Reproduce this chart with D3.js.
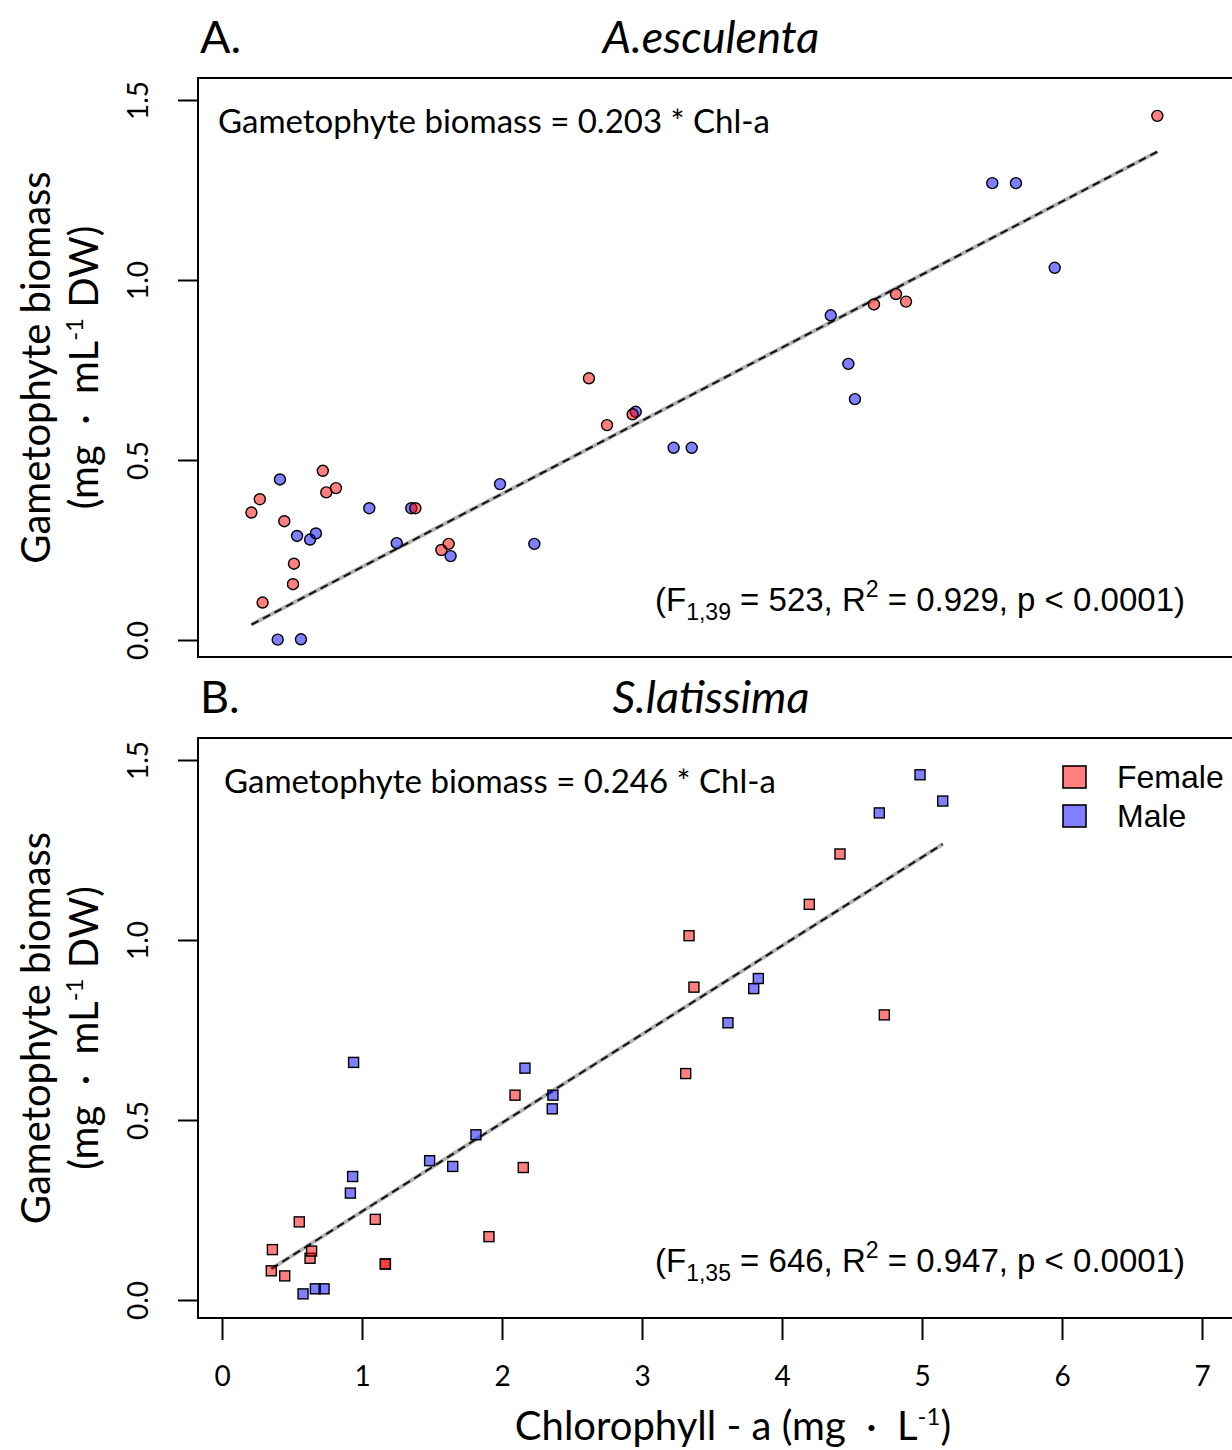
<!DOCTYPE html>
<html>
<head>
<meta charset="utf-8">
<script src="https://cdn.jsdelivr.net/npm/d3@7"></script>
<style>
  html, body { margin: 0; padding: 0; background: #fff; }
  svg { display: block; }
  .gill { font-family: Lato, "Open Sans", sans-serif; }
  .arial { font-family: "Liberation Sans", Arial, sans-serif; }
</style>
</head>
<body>
<svg id="chart" width="1232" height="1450"></svg>
<script>
// Chlorophyll-a (mg/L) vs gametophyte biomass (mg/mL DW), per sex.
const xTicks = [0, 1, 2, 3, 4, 5, 6, 7];
const yTicks = [0, 0.5, 1.0, 1.5];

// A. esculenta
const escFemaleX = [0.21, 0.27, 0.29, 0.445, 0.507, 0.514, 0.72, 0.745, 0.814, 1.381, 1.567, 1.619, 2.621, 2.75, 2.933, 4.657, 4.814, 4.886, 6.681];
const escFemaleY = [0.354, 0.391, 0.104, 0.330, 0.155, 0.212, 0.470, 0.410, 0.422, 0.366, 0.250, 0.267, 0.727, 0.597, 0.627, 0.932, 0.961, 0.940, 1.456];
const escMaleX = [0.398, 0.414, 0.536, 0.564, 0.629, 0.671, 1.052, 1.248, 1.352, 1.633, 1.986, 2.231, 2.955, 3.226, 3.355, 4.348, 4.474, 4.521, 5.502, 5.671, 5.948];
const escMaleY = [0.001, 0.446, 0.289, 0.002, 0.279, 0.296, 0.366, 0.269, 0.366, 0.233, 0.433, 0.267, 0.634, 0.534, 0.534, 0.902, 0.767, 0.669, 1.269, 1.269, 1.034];

// S. latissima
const latFemaleX = [0.352, 0.36, 0.448, 0.552, 0.629, 0.64, 1.095, 1.167, 1.167, 1.907, 2.093, 2.152, 3.312, 3.336, 3.371, 4.195, 4.414, 4.731];
const latFemaleY = [0.081, 0.140, 0.067, 0.217, 0.116, 0.136, 0.224, 0.100, 0.100, 0.176, 0.569, 0.368, 0.629, 1.012, 0.869, 1.099, 1.239, 0.792];
const latMaleX = [0.579, 0.667, 0.729, 0.917, 0.933, 0.94, 1.483, 1.648, 1.814, 2.164, 2.359, 2.364, 3.614, 3.798, 3.831, 4.695, 4.986, 5.148];
const latMaleY = [0.017, 0.031, 0.031, 0.297, 0.343, 0.660, 0.387, 0.371, 0.459, 0.644, 0.531, 0.569, 0.770, 0.865, 0.893, 1.353, 1.459, 1.386];

const slopes = [0.203, 0.246];
const panelLetters = ["A.", "B."];
const species = ["A.esculenta", "S.latissima"];
const statsDf = ["1,39", "1,35"];
const statsF = ["523", "646"];
const statsR2 = ["0.929", "0.947"];
const legendLabels = ["Female", "Male"];

const fillFemale = "rgba(255,0,0,0.5)";
const fillMale = "rgba(0,0,255,0.5)";

const svg = d3.select("#chart");
const boxLeft = 198, boxRight = 1244;
const x = d3.scaleLinear().domain([0, 7]).range([222, 1202]);

const panels = [
  { top: 78, bottom: 657, yRange: [640, 100], fem: [escFemaleX, escFemaleY], male: [escMaleX, escMaleY], shape: "circle" },
  { top: 738, bottom: 1318, yRange: [1300, 760], fem: [latFemaleX, latFemaleY], male: [latMaleX, latMaleY], shape: "square" }
];

function zipXY(xs, ys) { return xs.map((v, i) => ({ x: v, y: ys[i] })); }

panels.forEach((p, i) => {
  const y = d3.scaleLinear().domain([0, 1.5]).range(p.yRange);
  const g = svg.append("g");
  const females = zipXY(p.fem[0], p.fem[1]);
  const males = zipXY(p.male[0], p.male[1]);
  const all = females.concat(males);

  // regression line through the origin, spanning the observed x range
  const xr = d3.extent(all, d => d.x);
  const lineData = xr.map(v => ({ x: v, y: slopes[i] * v }));
  const line = d3.line().x(d => x(d.x)).y(d => y(d.y));
  g.append("path").datum(lineData).attr("d", line)
    .attr("stroke", "#b4b4b4").attr("stroke-width", 4).attr("fill", "none");
  g.append("path").datum(lineData).attr("d", line)
    .attr("stroke", "#111").attr("stroke-width", 2).attr("fill", "none")
    .attr("stroke-dasharray", "8,5");

  // points
  const drawPts = (data, fill) => {
    if (p.shape === "circle") {
      g.append("g").selectAll("circle").data(data).join("circle")
        .attr("cx", d => x(d.x)).attr("cy", d => y(d.y)).attr("r", 5.5)
        .attr("fill", fill).attr("stroke", "#000").attr("stroke-width", 1.4);
    } else {
      const s = 10;
      g.append("g").selectAll("rect").data(data).join("rect")
        .attr("x", d => x(d.x) - s / 2).attr("y", d => y(d.y) - s / 2)
        .attr("width", s).attr("height", s)
        .attr("fill", fill).attr("stroke", "#000").attr("stroke-width", 1.4);
    }
  };
  drawPts(males, fillMale);
  drawPts(females, fillFemale);

  // frame
  svg.append("rect").attr("x", boxLeft).attr("y", p.top)
    .attr("width", boxRight - boxLeft).attr("height", p.bottom - p.top)
    .attr("fill", "none").attr("stroke", "#000").attr("stroke-width", 2);

  // y axis with rotated labels
  const ya = svg.append("g").attr("transform", `translate(${boxLeft},0)`)
    .call(d3.axisLeft(y).tickValues(yTicks).tickFormat(d3.format(".1f")).tickSize(20).tickSizeOuter(0));
  ya.select(".domain").remove();
  ya.selectAll(".tick line").attr("stroke", "#000").attr("stroke-width", 2);
  ya.selectAll(".tick text")
    .attr("x", null).attr("dy", null)
    .attr("text-anchor", "middle")
    .attr("transform", "translate(-50,0) rotate(-90)")
    .attr("class", "gill").attr("font-size", 28).attr("fill", "#000");

  // y title (two lines)
  const cy = (p.top + p.bottom) / 2;
  const yt = svg.append("g").attr("class", "gill").attr("font-size", 40).attr("fill", "#000");
  yt.append("text").attr("text-anchor", "middle")
    .attr("transform", `translate(50,${cy}) rotate(-90)`)
    .text("Gametophyte biomass");
  const t2 = yt.append("text").attr("text-anchor", "middle")
    .attr("transform", `translate(98,${cy}) rotate(-90)`);
  t2.append("tspan").text("(mg \u00A0\u00B7\u00A0 mL");
  t2.append("tspan").attr("font-size", 24).attr("dy", -15).text("-1");
  t2.append("tspan").attr("dy", 15).text(" DW)");

  // panel letter and species name
  svg.append("text").attr("class", "gill").attr("x", 200).attr("y", p.top - 25)
    .attr("font-size", 45).text(panelLetters[i]);
  svg.append("text").attr("class", "gill").attr("x", 711).attr("y", p.top - 25)
    .attr("text-anchor", "middle").attr("font-size", 45).attr("font-style", "italic")
    .text(species[i]);

  // equation
  svg.append("text").attr("class", "gill").attr("x", i === 0 ? 218 : 224).attr("y", p.top + 55)
    .attr("font-size", 33).text(`Gametophyte biomass = ${slopes[i].toFixed(3)} * Chl-a`);

  // fit statistics
  const st = svg.append("text").attr("class", "arial").attr("x", 655).attr("y", p.bottom - 46)
    .attr("font-size", 33);
  st.append("tspan").text("(F");
  st.append("tspan").attr("font-size", 23).attr("dy", 9).text(statsDf[i]);
  st.append("tspan").attr("dy", -9).text(` = ${statsF[i]}, R`);
  st.append("tspan").attr("font-size", 23).attr("dy", -14).text("2");
  st.append("tspan").attr("dy", 14).text(` = ${statsR2[i]}, p < 0.0001)`);

  // bottom axis only on the lower panel
  if (i === 1) {
    const xa = svg.append("g").attr("transform", `translate(0,${p.bottom})`)
      .call(d3.axisBottom(x).tickValues(xTicks).tickFormat(d3.format("d")).tickSize(22).tickSizeOuter(0).tickPadding(26));
    xa.select(".domain").remove();
    xa.selectAll(".tick line").attr("stroke", "#000").attr("stroke-width", 2);
    xa.selectAll(".tick text").attr("class", "gill").attr("font-size", 28).attr("fill", "#000");

    const xt = svg.append("text").attr("class", "gill").attr("x", 733).attr("y", 1440)
      .attr("text-anchor", "middle").attr("font-size", 40);
    xt.append("tspan").text("Chlorophyll - a (mg \u00A0\u00B7\u00A0 L");
    xt.append("tspan").attr("font-size", 24).attr("dy", -15).text("-1");
    xt.append("tspan").attr("dy", 15).text(")");

    // legend
    const lg = svg.append("g");
    const fills = [fillFemale, fillMale];
    legendLabels.forEach((lab, k) => {
      const ly = 777 + k * 39;
      lg.append("rect").attr("x", 1063).attr("y", ly - 11).attr("width", 23).attr("height", 22)
        .attr("fill", fills[k]).attr("stroke", "#000").attr("stroke-width", 1.6);
      lg.append("text").attr("class", "arial").attr("x", 1117).attr("y", ly + 11)
        .attr("font-size", 32).text(lab);
    });
  }
});
</script>
</body>
</html>
